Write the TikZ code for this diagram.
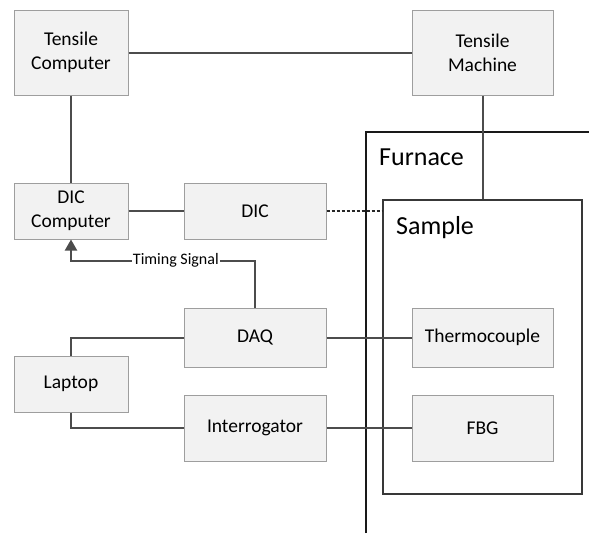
\documentclass[tikz,border=0pt]{standalone}
\usepackage{fontspec}
\setmainfont{Carlito}
\usetikzlibrary{arrows.meta}
\begin{document}
\begin{tikzpicture}[x=1pt,y=-1pt,
  box/.style={draw=black!38, fill=black!5, line width=1pt, inner sep=2pt,
    align=center, font=\fontsize{19.5}{23.8}\selectfont},
  link/.style={draw=black!70, line width=2pt},
  wall/.style={draw=black!90, line width=1.8pt},
  bigtext/.style={anchor=base west, inner sep=0pt, font=\fontsize{26}{30}\selectfont}]
\useasboundingbox[fill=white] (0,0) rectangle (589,533);

% furnace walls (open to the right and bottom)
\draw[wall] (366,533) -- (366,132) -- (589,132);
\node[bigtext] (furnacelbl) at (379,165) {Furnace};

% sample enclosure
\node[draw=black!78, line width=1.8pt, minimum width=199, minimum height=294,
  inner sep=0pt] (sample) at (482.5,347) {};
\node[bigtext] (samplelbl) at (396,234) {Sample};

% equipment boxes
\node[box, minimum width=114, minimum height=85] (tc) at (71,52.5) {Tensile\\Computer};
\node[box, minimum width=141, minimum height=85] (tm) at (482.5,52.5) {Tensile\\Machine};
\node[box, minimum width=114, minimum height=56] (dicc) at (71,211) {DIC\\Computer};
\node[box, minimum width=142, minimum height=56] (dic) at (255,211) {DIC};
\node[box, minimum width=142, minimum height=59] (daq) at (255,337.5) {DAQ};
\node[box, minimum width=114, minimum height=56] (laptop) at (71,384) {Laptop};
\node[box, minimum width=142, minimum height=66] (interr) at (255,428) {Interrogator};
\node[box, minimum width=141, minimum height=59] (tcouple) at (482.5,337.5) {Thermocouple};
\node[box, minimum width=141, minimum height=66] (fbg) at (482.5,428) {FBG};

% connections
\draw[link] (tc.east) -- (tm.west);
\draw[link] (tc.south) -- (dicc.north);
\draw[link] (dicc.east) -- (dic.west);
\draw[link] (tm.south) -- (sample.north);
\draw[draw=black!85, line width=1.8pt, dash pattern=on 3pt off 2pt] (dic.east) -- (sample.west |- dic.east);
\draw[link, -{Triangle[width=12pt,length=11pt]}] (daq.north) -- ++(0,-47) -| (dicc.south)
  node[pos=0.215, fill=white, inner sep=1pt, text=black, font=\fontsize{16}{19}\selectfont] (timing) {Timing Signal};
\draw[link] (laptop.north) |- (daq.west);
\draw[link] (laptop.south) |- (interr.west);
\draw[link] (daq.east) -- (tcouple.west);
\draw[link] (interr.east) -- (fbg.west);
\end{tikzpicture}
\end{document}
